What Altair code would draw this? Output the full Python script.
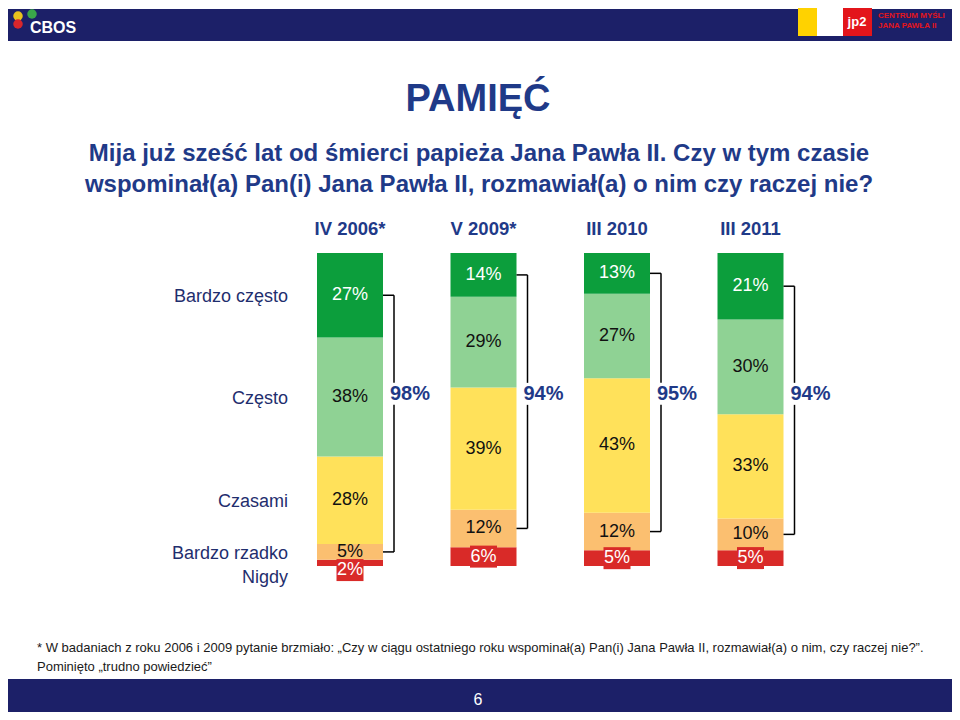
import altair as alt
import pandas as pd

# ---------------- data ----------------
periods = ["IV 2006*", "V 2009*", "III 2010", "III 2011"]
categories = ["Nigdy", "Bardzo rzadko", "Czasami", "Często", "Bardzo często"]  # bottom -> top
nigdy = [2, 6, 5, 5]
bardzo_rzadko = [5, 12, 12, 10]
czasami = [28, 39, 43, 33]
czesto = [38, 29, 27, 30]
bardzo_czesto = [27, 14, 13, 21]
bracket_totals = [98, 94, 95, 94]

colors = ["#d92a28", "#fbbf70", "#ffe15a", "#8fd294", "#0c9e3c"]
label_colors = ["white", "#111111", "#111111", "#111111", "white"]

title = "PAMIĘĆ"
subtitle = [
    "Mija już sześć lat od śmierci papieża Jana Pawła II. Czy w tym czasie",
    "wspominał(a) Pan(i) Jana Pawła II, rozmawiał(a) o nim czy raczej nie?",
]
footnote = [
    "* W badaniach z roku 2006 i 2009 pytanie brzmiało: „Czy w ciągu ostatniego roku wspominał(a) Pan(i) Jana Pawła II, rozmawiał(a) o nim, czy raczej nie?”.",
    "Pominięto „trudno powiedzieć”",
]
page_number = "6"

NAVY = "#1f3a88"
ROWNAVY = "#1f2e6e"
BAND = "#1c2068"
FONT = "Liberation Sans"

# ---------------- tables ----------------
series = [nigdy, bardzo_rzadko, czasami, czesto, bardzo_czesto]
rows = []
brackets = []
for i, p in enumerate(periods):
    vals = [s[i] for s in series]
    tot = sum(vals)
    cum = 0.0
    mids = {}
    for c, v, lc in zip(categories, vals, label_colors):
        y0 = cum / tot * 100
        cum += v
        y1 = cum / tot * 100
        mid = (y0 + y1) / 2
        ly = mid if v >= 3 else y0 - 1.3
        mids[c] = mid
        rows.append(dict(period=p, idx=i, cat=c, value=v, y0=y0, y1=y1,
                         ly=ly, label=f"{v}%", lc=lc))
    brackets.append(dict(idx=i, top=mids["Bardzo często"], bottom=mids["Bardzo rzadko"],
                         ly=55, label=f"{bracket_totals[i]}%"))
bars = pd.DataFrame(rows)
br = pd.DataFrame(brackets)
heads = pd.DataFrame({"idx": list(range(len(periods))), "period": periods})
rowlab = bars[bars.idx == 0][["cat", "ly"]]

xscale = alt.Scale(domain=[-0.5, 3.5], range=[275.25, 809.25], nice=False, zero=False, padding=0)
yscale = alt.Scale(domain=[0, 100], range=[557, 244], nice=False, zero=False, padding=0)
X = alt.X("idx:Q", scale=xscale, axis=None)

bar_layer = alt.Chart(bars).mark_bar(size=66).encode(
    x=X,
    y=alt.Y("y0:Q", scale=yscale, axis=None),
    y2="y1:Q",
    color=alt.Color("cat:N", scale=alt.Scale(domain=categories, range=colors), legend=None),
)

box_path = "M-1,-0.8148L1,-0.8148L1,0.8148L-1,0.8148Z"
red_boxes = alt.Chart(bars[bars.cat == "Nigdy"]).mark_point(
    shape=box_path, size=729, filled=True, opacity=1, color=colors[0], strokeWidth=0
).encode(x=X, y=alt.Y("ly:Q", scale=yscale, axis=None))

bar_text = alt.Chart(bars).mark_text(fontSize=18, font=FONT, baseline="middle").encode(
    x=X,
    y=alt.Y("ly:Q", scale=yscale, axis=None),
    text="label:N",
    color=alt.Color("lc:N", scale=None),
)

rule_style = dict(color="#000000", strokeWidth=1.5)
br_up = alt.Chart(br).mark_rule(xOffset=44, y2Offset=-11, **rule_style).encode(
    x=X, y=alt.Y("top:Q", scale=yscale, axis=None), y2="ly:Q")
br_down = alt.Chart(br).mark_rule(xOffset=44, yOffset=11, **rule_style).encode(
    x=X, y=alt.Y("ly:Q", scale=yscale, axis=None), y2="bottom:Q")
br_top = alt.Chart(br).mark_rule(xOffset=33, x2Offset=44, **rule_style).encode(
    x=X, x2="idx:Q", y=alt.Y("top:Q", scale=yscale, axis=None))
br_bot = alt.Chart(br).mark_rule(xOffset=33, x2Offset=44, **rule_style).encode(
    x=X, x2="idx:Q", y=alt.Y("bottom:Q", scale=yscale, axis=None))
br_text = alt.Chart(br).mark_text(xOffset=60, fontSize=20, fontWeight="bold", font=FONT,
                                  color=NAVY, baseline="middle").encode(
    x=X, y=alt.Y("ly:Q", scale=yscale, axis=None), text="label:N")

head_text = alt.Chart(heads).mark_text(fontSize=18.5, fontWeight="bold", font=FONT,
                                       color=NAVY, baseline="middle").encode(
    x=X, y=alt.value(220), text="period:N")

row_text = alt.Chart(rowlab[rowlab.cat != "Nigdy"]).mark_text(
    fontSize=18, font=FONT, color=ROWNAVY, align="right", baseline="middle", dy=2
).encode(x=alt.value(280), y=alt.Y("ly:Q", scale=yscale, axis=None), text="cat:N")
row_text2 = alt.Chart(rowlab[rowlab.cat == "Nigdy"]).mark_text(
    fontSize=18, font=FONT, color=ROWNAVY, align="right", baseline="middle", dy=8
).encode(x=alt.value(280), y=alt.Y("ly:Q", scale=yscale, axis=None), text="cat:N")

one = pd.DataFrame({"a": [0]})

def txt(t, x, y, **kw):
    return alt.Chart(pd.DataFrame({"t": [t]})).mark_text(**kw).encode(
        x=alt.value(x), y=alt.value(y), text="t:N")

def rect(x, x2, y, y2, color):
    return alt.Chart(one).mark_rect(color=color).encode(
        x=alt.value(x), x2=alt.value(x2), y=alt.value(y), y2=alt.value(y2))

def dot(x, y, color, size):
    return alt.Chart(one).mark_point(filled=True, opacity=1, color=color, size=size,
                                     shape="circle").encode(x=alt.value(x), y=alt.value(y))

title_t = txt(title, 470, 102, fontSize=38, fontWeight="bold", font=FONT, color=NAVY,
              align="center", baseline="alphabetic")
sub1 = txt(subtitle[0], 471, 152, fontSize=24, fontWeight="bold", font=FONT, color=NAVY,
           align="center", baseline="alphabetic")
sub2 = txt(subtitle[1], 471, 183, fontSize=24, fontWeight="bold", font=FONT, color=NAVY,
           align="center", baseline="alphabetic")
foot1 = txt(footnote[0], 29, 643, fontSize=13, font=FONT, color="#1a1a1a",
            align="left", baseline="alphabetic")
foot2 = txt(footnote[1], 29, 662, fontSize=13, font=FONT, color="#1a1a1a",
            align="left", baseline="alphabetic")

header = rect(0, 944, 0, 32, BAND)
footer = rect(0, 944, 670, 704, BAND)
pnum = txt(page_number, 470, 691, fontSize=16, font=FONT, color="white",
           align="center", baseline="middle")
cbos = txt("CBOS", 22, 19, fontSize=16, fontWeight="bold", font=FONT, color="white",
           align="left", baseline="middle")
blob1 = dot(10, 7, "#e8c21e", 90)
blob2 = dot(24, 5, "#3aa54a", 90)
blob3 = dot(10, 15, "#d8262c", 90)
jp_y = rect(790, 809, -1, 27, "#ffd200")
jp_w = rect(809, 835, -1, 27, "#ffffff")
jp_r = rect(835, 864, -1, 27, "#e3151b")
jp_t = txt("jp2", 849, 13, fontSize=13, fontWeight="bold", font=FONT, color="white",
           align="center", baseline="middle")
jp_c1 = txt("CENTRUM MYŚLI", 870, 7, fontSize=8, fontWeight="bold", font=FONT,
            color="#e3151b", align="left", baseline="middle")
jp_c2 = txt("JANA PAWŁA II", 870, 17, fontSize=8, fontWeight="bold", font=FONT,
            color="#e3151b", align="left", baseline="middle")

chart = alt.layer(
    header, footer, pnum, cbos, blob1, blob2, blob3, jp_y, jp_w, jp_r, jp_t, jp_c1, jp_c2,
    title_t, sub1, sub2,
    bar_layer, red_boxes, bar_text,
    br_up, br_down, br_top, br_bot, br_text,
    head_text, row_text, row_text2,
    foot1, foot2,
).properties(
    width=944, height=704,
    autosize=alt.AutoSizeParams(type="fit", contains="padding"),
    padding=0,
    background="white",
).configure_view(stroke=None)

chart.save("out.html", embed_options={"renderer": "svg", "actions": False})
